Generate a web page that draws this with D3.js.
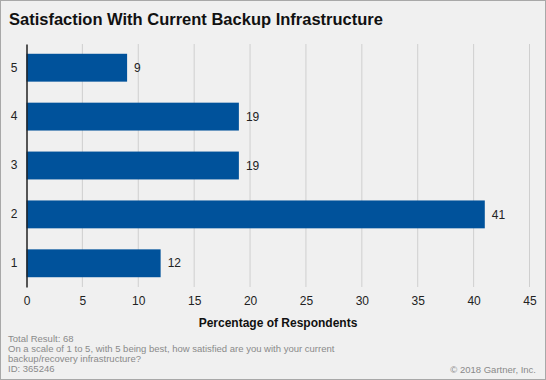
<!DOCTYPE html>
<html>
<head>
<meta charset="utf-8">
<script src="https://cdn.jsdelivr.net/npm/d3@7"></script>
<style>
  body { margin: 0; background: #fff; }
  svg { display: block; font-family: Arial, "Liberation Sans", sans-serif; }
</style>
</head>
<body>
<div id="chart"></div>
<script>
const ratings = ['5', '4', '3', '2', '1'];
const percents = [9, 19, 19, 41, 12];
const xTicks = [0, 5, 10, 15, 20, 25, 30, 35, 40, 45];
const notes = [
  'Total Result: 68',
  'On a scale of 1 to 5, with 5 being best, how satisfied are you with  your current',
  'backup/recovery infrastructure?',
  'ID: 365246'
];

const W = 546, H = 380;
const margin = { top: 44, right: 16.5, bottom: 93, left: 26.5 };
const width = W - margin.left - margin.right;
const height = H - margin.top - margin.bottom;

const svg = d3.select('#chart').append('svg')
  .attr('width', W).attr('height', H);

svg.append('rect')
  .attr('x', 0.5).attr('y', 0.5)
  .attr('width', W - 1).attr('height', H - 1)
  .attr('fill', '#f0f0f0').attr('stroke', '#a8a8a8');

svg.append('text')
  .attr('x', 9).attr('y', 25)
  .attr('font-size', 16.5).attr('font-weight', 'bold').attr('fill', '#111')
  .text('Satisfaction With Current Backup Infrastructure');

const g = svg.append('g')
  .attr('transform', 'translate(' + margin.left + ',' + margin.top + ')');

const x = d3.scaleLinear().domain([0, 45]).range([0, width]);
const y = d3.scaleBand().domain(ratings).range([0, height]).paddingInner(0.43).paddingOuter(0.2);

// gridlines
g.selectAll('.grid')
  .data(xTicks.slice(1))
  .enter().append('line')
  .attr('class', 'grid')
  .attr('x1', d => x(d)).attr('x2', d => x(d))
  .attr('y1', 0).attr('y2', height)
  .attr('stroke', '#cfcfcf').attr('stroke-width', 1);

// bars
g.selectAll('.bar')
  .data(percents)
  .enter().append('rect')
  .attr('class', 'bar')
  .attr('x', 0)
  .attr('y', (d, i) => y(ratings[i]))
  .attr('width', d => x(d))
  .attr('height', y.bandwidth())
  .attr('fill', '#00529b');

g.selectAll('.val')
  .data(percents)
  .enter().append('text')
  .attr('class', 'val')
  .attr('x', d => x(d) + 7)
  .attr('y', (d, i) => y(ratings[i]) + y.bandwidth() / 2)
  .attr('dy', '.35em')
  .attr('font-size', 12).attr('fill', '#222')
  .text(d => d);

// y axis
const yAxis = g.append('g').call(d3.axisLeft(y).tickSize(0).tickPadding(9));
yAxis.select('.domain').attr('stroke', '#222').attr('stroke-width', 1.5);
yAxis.selectAll('text').attr('font-size', 12).attr('fill', '#222').attr('font-family', null);

// x axis
const xAxis = g.append('g')
  .attr('transform', 'translate(0,' + height + ')')
  .call(d3.axisBottom(x).tickValues(xTicks).tickSize(0).tickPadding(9));
xAxis.select('.domain').remove();
xAxis.selectAll('text').attr('font-size', 12).attr('fill', '#222').attr('font-family', null);

g.append('text')
  .attr('x', width / 2).attr('y', height + 40)
  .attr('text-anchor', 'middle')
  .attr('font-size', 12).attr('font-weight', 'bold').attr('fill', '#111')
  .text('Percentage of Respondents');

svg.selectAll('.note')
  .data(notes)
  .enter().append('text')
  .attr('class', 'note')
  .attr('x', 8)
  .attr('y', (d, i) => 342 + i * 10.1)
  .attr('font-size', 9.5).attr('fill', '#8a8a8a')
  .text(d => d);

svg.append('text')
  .attr('x', 536).attr('y', 372.5)
  .attr('text-anchor', 'end')
  .attr('font-size', 9.5).attr('fill', '#8a8a8a')
  .text('\u00a9 2018 Gartner, Inc.');
</script>
</body>
</html>
